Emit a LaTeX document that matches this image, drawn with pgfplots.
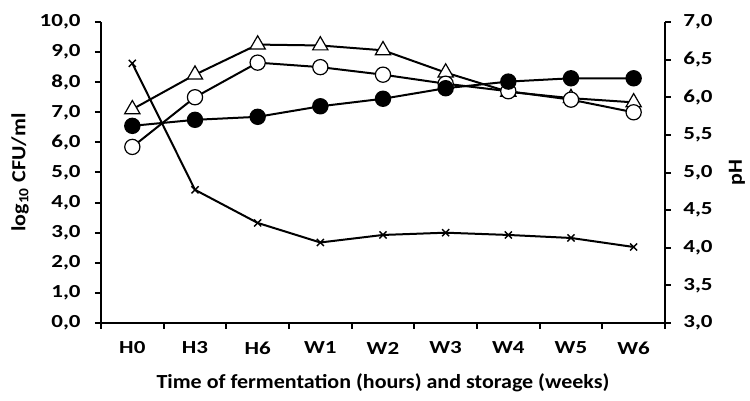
\documentclass[border=0pt]{standalone}
\usepackage{fontspec}
\setmainfont{Carlito}[FakeStretch=1.1]
\newfontfamily\tickfont{Carlito}[FakeStretch=1.25]
\usepackage{pgfplots}
\pgfplotsset{compat=1.18}
\begin{document}
\begin{tikzpicture}
\useasboundingbox (-50.5pt,-39pt) rectangle (324.5pt,161.5pt);
\pgfplotsset{
  common/.style={
    scale only axis, width=282pt, height=150.5pt,
    xmin=-0.5, xmax=8.5,
    tick align=outside, major tick length=3pt,
    every tick/.style={black, line width=1pt},
    axis line style={-, line width=1pt, black},
    tick label style={font=\tickfont\fontsize{9.2}{10}\selectfont\bfseries},
    /pgf/number format/assume math mode=true,
    /pgf/number format/.cd, fixed, fixed zerofill, precision=1, use comma,
  },
}
% pH axis
\begin{axis}[common,
  axis x line=none, axis y line*=right,
  ymin=3, ymax=7, ytick={3,3.5,...,7},
  yticklabel style={anchor=west, inner sep=0pt, xshift=6pt},
  ylabel={pH},
  every axis y label/.style={at={(axis description cs:1.1277,0.5)}, rotate=90, anchor=center, font=\fontsize{10}{12}\selectfont\bfseries},
]
\addplot[black, line width=1pt, mark=x, mark size=2.5pt, mark options={line width=0.7pt}] coordinates {
(0,6.45) (1,4.77) (2,4.33) (3,4.07) (4,4.17) (5,4.20) (6,4.17) (7,4.13) (8,4.01)};
\end{axis}
\begin{axis}[common,
  axis x line*=bottom, axis y line*=left,
  ymin=0, ymax=10, ytick={0,1,...,10},
  xtick={-0.5,0.5,...,8.5}, xticklabels={},
  extra x ticks={0,1,...,8},
  extra x tick labels={H0,H3,H6,W1,W2,W3,W4,W5,W6},
  extra x tick style={major tick length=0pt, xticklabel style={anchor=center, yshift=-12.5pt}},
  yticklabel style={anchor=east, inner sep=0pt, xshift=-7pt},
  ylabel={log\textsubscript{10} CFU/ml},
  every axis y label/.style={at={(axis description cs:-0.1436,0.5)}, rotate=90, anchor=center, font=\fontsize{10}{12}\selectfont\bfseries},
  xlabel={Time of fermentation (hours) and storage (weeks)},
  every axis x label/.style={at={(axis description cs:0.5,-0.199)}, anchor=center, font=\fontsize{10}{12}\selectfont\bfseries},
]
\addplot[black, line width=1pt, mark=triangle*, mark size=4.4pt, mark options={fill=white, line width=0.6pt}] coordinates {
(0,7.1) (1,8.25) (2,9.25) (3,9.22) (4,9.06) (5,8.32) (6,7.68) (7,7.47) (8,7.33)};
\addplot[black, line width=1pt, mark=*, mark size=3.8pt, mark options={fill=white, line width=0.6pt}] coordinates {
(0,5.85) (1,7.5) (2,8.65) (3,8.5) (4,8.25) (5,7.95) (6,7.7) (7,7.42) (8,7.0)};
\addplot[black, line width=1pt, mark=*, mark size=3.6pt, mark options={fill=black}] coordinates {
(0,6.55) (1,6.75) (2,6.85) (3,7.2) (4,7.45) (5,7.8) (6,8.02) (7,8.13) (8,8.13)};
\end{axis}
\end{tikzpicture}
\end{document}
